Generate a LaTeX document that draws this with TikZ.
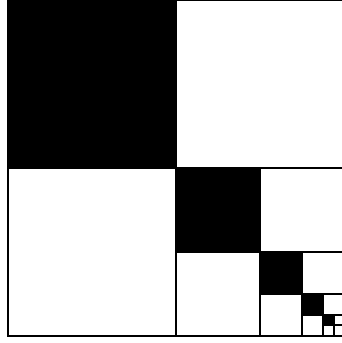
\documentclass[tikz,border=0pt]{standalone}
\usepackage{tikz}
\usetikzlibrary{calc}
\tikzset{
  blackbox/.style={fill=black,draw=black,line width=2pt},
  whitebox/.style={fill=white,draw=black,line width=2pt}
}
\begin{document}
\begin{tikzpicture}[x=1pt,y=1pt]
    \useasboundingbox (-8,-7) rectangle (334,336);
    \clip (-8,-7) rectangle (334,336);
    \def\S{336}
    \foreach \k in {0,...,4}{
      \pgfmathsetmacro\s{\S/2^\k}
      \pgfmathsetmacro\h{\s/2}
      \pgfmathsetmacro\xo{\S-\s}
      \draw[whitebox] (\xo,0) rectangle (\S,\s);
      \draw[blackbox] (\xo,\h) rectangle ++(\h,\h);
      \draw[whitebox] (\xo+\h,\h) rectangle (\S,\s);
      \draw[whitebox] (\xo,0) rectangle ++(\h,\h);
    }
  \end{tikzpicture}
\end{document}
